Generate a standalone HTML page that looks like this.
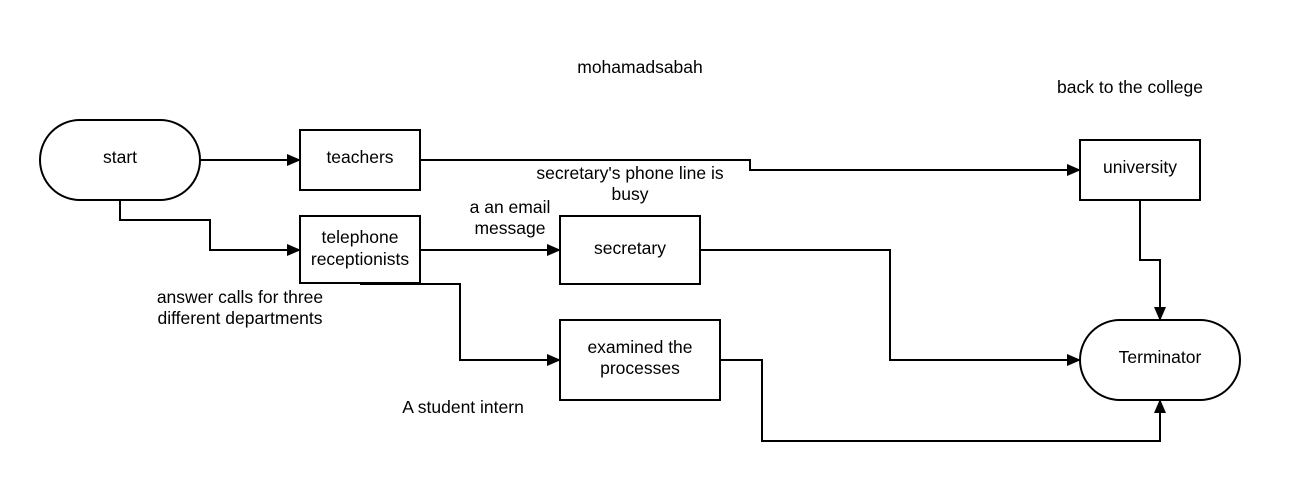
<!DOCTYPE html>
<html><head><style>body{margin:0;background:#fff}svg{display:block}text{font-family:"Liberation Sans",Arial,sans-serif;font-size:17.5px;fill:#000}</style></head><body>
<svg width="1290" height="481" viewBox="0 0 1290 481">
<defs><marker id="a" markerWidth="14" markerHeight="12" refX="13" refY="6" orient="auto" markerUnits="userSpaceOnUse"><path d="M0,0 L14,6 L0,12 Z" fill="#000"/></marker></defs>
<g fill="none" stroke="#000" stroke-width="2">
<rect x="40" y="120" width="160" height="80" rx="40"/>
<rect x="300" y="130" width="120" height="60"/>
<rect x="300" y="216" width="120" height="67"/>
<rect x="560" y="216" width="140" height="68"/>
<rect x="560" y="320" width="160" height="80"/>
<rect x="1080" y="140" width="120" height="60"/>
<rect x="1080" y="320" width="160" height="80" rx="40"/>
<path d="M200,160 H300" marker-end="url(#a)"/>
<path d="M420,160 H750 V170 H1080" marker-end="url(#a)"/>
<path d="M120,200 V220 H210 V250 H300" marker-end="url(#a)"/>
<path d="M420,250 H560" marker-end="url(#a)"/>
<path d="M360,284 H460 V360 H560" marker-end="url(#a)"/>
<path d="M700,250 H890 V360 H1080" marker-end="url(#a)"/>
<path d="M720,360 H762 V441 H1160 V400" marker-end="url(#a)"/>
<path d="M1140,200 V260 H1160 V320" marker-end="url(#a)"/>
</g>
<g text-anchor="middle">
<text x="120" y="163">start</text>
<text x="360" y="163">teachers</text>
<text x="360" y="243">telephone</text>
<text x="360" y="265">receptionists</text>
<text x="630" y="254">secretary</text>
<text x="640" y="353">examined the</text>
<text x="640" y="374">processes</text>
<text x="1140" y="173">university</text>
<text x="1160" y="363">Terminator</text>
<text x="640" y="73">mohamadsabah</text>
<text x="1130" y="93">back to the college</text>
<text x="630" y="179">secretary's phone line is</text>
<text x="630" y="200">busy</text>
<text x="510" y="213">a an email</text>
<text x="510" y="234">message</text>
<text x="240" y="303">answer calls for three</text>
<text x="240" y="324">different departments</text>
<text x="463" y="413">A student intern</text>
</g>
</svg>
</body></html>
